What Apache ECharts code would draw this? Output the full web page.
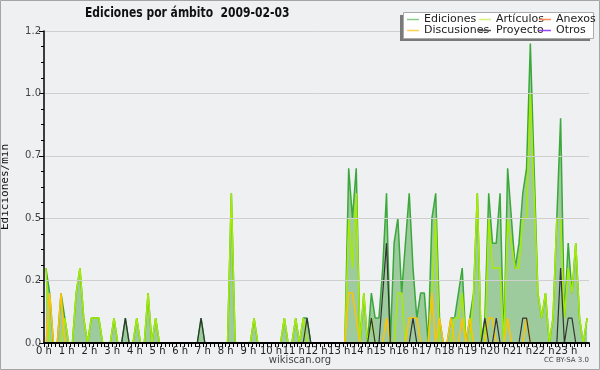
<!DOCTYPE html>
<html>
<head>
<meta charset="utf-8">
<script src="https://cdn.jsdelivr.net/npm/echarts@6/dist/echarts.min.js"></script>
<style>html,body{margin:0;padding:0;background:#eff0f2}#c{width:600px;height:370px}</style>
</head>
<body>
<div id="c"></div>
<script>
// 10-minute bins, 6 per hour (one row per hour)
const ediciones = [
  0.3,0.2,0,0,0.2,0.1,   0,0,0.2,0.3,0.1,0,   0.1,0.1,0.1,0,0,0,   0.1,0,0,0.1,0,0,
  0.1,0,0,0.2,0,0.1,     0,0,0,0,0,0,         0,0,0,0,0,0.1,       0,0,0,0,0,0,
  0,0.6,0,0,0,0,         0,0.1,0,0,0,0,       0,0,0,0.1,0,0,       0.1,0,0.1,0.1,0,0,
  0,0,0,0,0,0,           0,0,0.7,0.5,0.7,0,   0.2,0,0.2,0.1,0.1,0.3, 0.6,0,0.4,0.5,0.2,0.4,
  0.6,0.3,0.1,0.2,0.2,0, 0.5,0.6,0.1,0,0,0.1, 0.1,0.2,0.3,0,0.1,0.2, 0.6,0,0.1,0.6,0.4,0.4,
  0.6,0,0.7,0.5,0.3,0.4, 0.6,0.7,1.2,0.7,0.2,0.1, 0.2,0,0.1,0.5,0.9,0.1, 0.4,0.2,0.4,0.1,0,0.1
];
const articulos = [
  0.3,0,0,0,0,0.1,       0,0,0.2,0.3,0.1,0,   0.1,0.1,0.1,0,0,0,   0.1,0,0,0,0,0,
  0.1,0,0,0.2,0,0.1,     0,0,0,0,0,0,         0,0,0,0,0,0,         0,0,0,0,0,0,
  0,0.6,0,0,0,0,         0,0.1,0,0,0,0,       0,0,0,0.1,0,0,       0.1,0,0.1,0,0,0,
  0,0,0,0,0,0,           0,0,0.5,0.3,0.6,0,   0.2,0,0.1,0,0,0,     0,0,0,0.2,0.2,0,
  0,0,0,0,0,0,           0.2,0.5,0,0,0,0,     0.1,0.1,0.2,0,0,0.2, 0.6,0,0,0.5,0.3,0.3,
  0.3,0,0.5,0.4,0.3,0.3, 0.5,0.5,1.0,0.6,0.2,0.1, 0.2,0,0.1,0.5,0.5,0.1, 0.3,0.2,0.4,0.1,0,0.1
];
const discusiones = [
  0,0.2,0,0,0.2,0,       0,0,0,0,0,0,         0,0,0,0,0,0,         0,0,0,0,0,0,
  0,0,0,0,0,0,           0,0,0,0,0,0,         0,0,0,0,0,0,         0,0,0,0,0,0,
  0,0,0,0,0,0,           0,0,0,0,0,0,         0,0,0,0,0,0,         0,0,0,0,0,0,
  0,0,0,0,0,0,           0,0,0.2,0.2,0.1,0,   0,0,0,0,0,0,         0.1,0,0,0,0,0,
  0.1,0.1,0.1,0,0,0,     0.2,0,0.1,0,0,0.1,   0,0,0.1,0,0.1,0,     0,0,0,0.1,0.1,0,
  0,0,0.1,0,0,0,         0,0.1,0,0,0,0,       0,0,0,0,0,0,         0,0,0,0,0,0
];
const proyecto = [
  0,0,0,0,0,0,           0,0,0,0,0,0,         0,0,0,0,0,0,         0,0,0,0.1,0,0,
  0,0,0,0,0,0,           0,0,0,0,0,0,         0,0,0,0,0,0.1,       0,0,0,0,0,0,
  0,0,0,0,0,0,           0,0,0,0,0,0,         0,0,0,0,0,0,         0,0,0,0.1,0,0,
  0,0,0,0,0,0,           0,0,0,0,0,0,         0,0,0.1,0,0,0.2,     0.4,0,0,0,0,0,
  0,0.1,0,0,0,0,         0,0,0,0,0,0,         0,0,0,0,0,0,         0,0,0.1,0,0,0.1,
  0,0,0,0,0,0,           0.1,0.1,0,0,0,0,     0,0,0,0,0.3,0,       0.1,0.1,0,0,0,0
];
const anexos = [];   // no visible values
const otros = [];    // no visible values
const hourLabels = ['0 h','1 h','2 h','3 h','4 h','5 h','6 h','7 h','8 h','9 h','10 h','11 h',
  '12 h','13 h','14 h','15 h','16 h','17 h','18 h','19 h','20 h','21 h','22 h','23 h'];
const yTickLabels = ['0.0','0.2','0.5','0.7','1.0','1.2'];

const BIN = 10; // minutes per bin
function pts(arr){ return arr.map((v,i)=>[i*BIN + BIN/2, v]); }

const chart = echarts.init(document.getElementById('c'), null, {renderer:'canvas'});
const lineBase = {type:'line', showSymbol:false, symbol:'none', animation:false};
const legendText = {fontSize:11, lineHeight:10, fontFamily:'DejaVu Sans', color:'#222'};
chart.setOption({
  backgroundColor:'#eff0f2',
  animation:false,
  grid:{left:44, right:11, top:31, bottom:27, containLabel:false, outerBoundsMode:'none'},
  xAxis:{type:'value', min:0, max:1440, interval:60, z:10,
    axisLine:{show:true, onZero:false, lineStyle:{color:'#000', width:2}},
    axisTick:{show:true, length:4, lineStyle:{color:'#000'}},
    minorTick:{show:true, splitNumber:6, length:4, lineStyle:{color:'#000'}},
    splitLine:{show:false},
    axisLabel:{margin:3, fontSize:10, fontFamily:'DejaVu Sans', color:'#222', hideOverlap:false,
      formatter:v=> (v<1440 ? hourLabels[v/60] : '')}},
  yAxis:{type:'value', min:0, max:1.25, interval:0.25, z:10,
    name:'Ediciones/min', nameLocation:'middle', nameGap:33, nameRotate:90,
    nameTextStyle:{fontFamily:'DejaVu Sans Mono', fontSize:11, color:'#111'},
    axisLine:{show:true, lineStyle:{color:'#000', width:1.5}},
    axisTick:{show:true, length:5, lineStyle:{color:'#000'}},
    minorTick:{show:true, splitNumber:4, length:3, lineStyle:{color:'#000'}},
    splitLine:{show:true, lineStyle:{color:'#cfcfcf', width:1}},
    axisLabel:{margin:3, fontSize:10, fontFamily:'DejaVu Sans', color:'#444',
      formatter:(v)=> yTickLabels[Math.round(v/0.25)]}},
  legend:[
    {left:407, top:14, orient:'vertical', itemGap:0, itemWidth:12, itemHeight:1.5, icon:'rect', z:20, padding:0,
     textStyle:legendText,
     data:[{name:'Ediciones', itemStyle:{color:'#88cc88'}},{name:'Discusiones', itemStyle:{color:'#ffd24d'}}]},
    {left:479, top:14, orient:'vertical', itemGap:0, itemWidth:12, itemHeight:1.5, icon:'rect', z:20, padding:0,
     textStyle:legendText,
     data:[{name:'Artículos', itemStyle:{color:'#d4f07a'}},{name:'Proyecto', itemStyle:{color:'#555555'}}]},
    {left:539, top:14, orient:'vertical', itemGap:0, itemWidth:12, itemHeight:1.5, icon:'rect', z:20, padding:0,
     textStyle:legendText,
     data:[{name:'Anexos', itemStyle:{color:'#ff8855'}},{name:'Otros', itemStyle:{color:'#9944ee'}}]}
  ],
  graphic:[
    {type:'text', z:20, x:85, y:6, scaleX:0.77,
     style:{text:'Ediciones por ámbito  2009-02-03', font:'bold 14px "DejaVu Sans"', fill:'#111'}},
    {type:'rect', z:15, shape:{x:400, y:15, width:190, height:26}, style:{fill:'#7a7a7a'}},
    {type:'rect', z:16, shape:{x:403.5, y:12.5, width:190, height:26}, style:{fill:'#fff', stroke:'#aaa', lineWidth:1}},
    {type:'text', z:20, left:'center', top:355, style:{text:'wikiscan.org', font:'10px "DejaVu Sans"', fill:'#444'}},
    {type:'text', z:20, right:11, top:357, style:{text:'CC BY-SA 3.0', font:'7px "DejaVu Sans"', fill:'#444'}},
    {type:'rect', z:30, shape:{x:0.5, y:0.5, width:599, height:369}, style:{fill:'none', stroke:'#a5a5a5', lineWidth:1}}
  ],
  series:[
    Object.assign({}, lineBase, {name:'Ediciones', data:pts(ediciones), z:2,
      lineStyle:{color:'#3aa83a', width:1.5}, itemStyle:{color:'#3aa83a'},
      areaStyle:{color:'#9ecb9e', opacity:1}}),
    Object.assign({}, lineBase, {name:'Artículos', data:pts(articulos), z:3,
      lineStyle:{color:'#a6ec00', width:1.5}, itemStyle:{color:'#a6ec00'}}),
    Object.assign({}, lineBase, {name:'Anexos', data:pts(anexos), z:3,
      lineStyle:{color:'#ff7a40', width:1.5}, itemStyle:{color:'#ff7a40'}}),
    Object.assign({}, lineBase, {name:'Discusiones', data:pts(discusiones), z:4,
      lineStyle:{color:'#ffc300', width:1.5}, itemStyle:{color:'#ffc300'}}),
    Object.assign({}, lineBase, {name:'Proyecto', data:pts(proyecto), z:5,
      lineStyle:{color:'#333333', width:1.2}, itemStyle:{color:'#333333'}}),
    Object.assign({}, lineBase, {name:'Otros', data:pts(otros), z:5,
      lineStyle:{color:'#9933ee', width:1.5}, itemStyle:{color:'#9933ee'}})
  ]
});
</script>
</body>
</html>
